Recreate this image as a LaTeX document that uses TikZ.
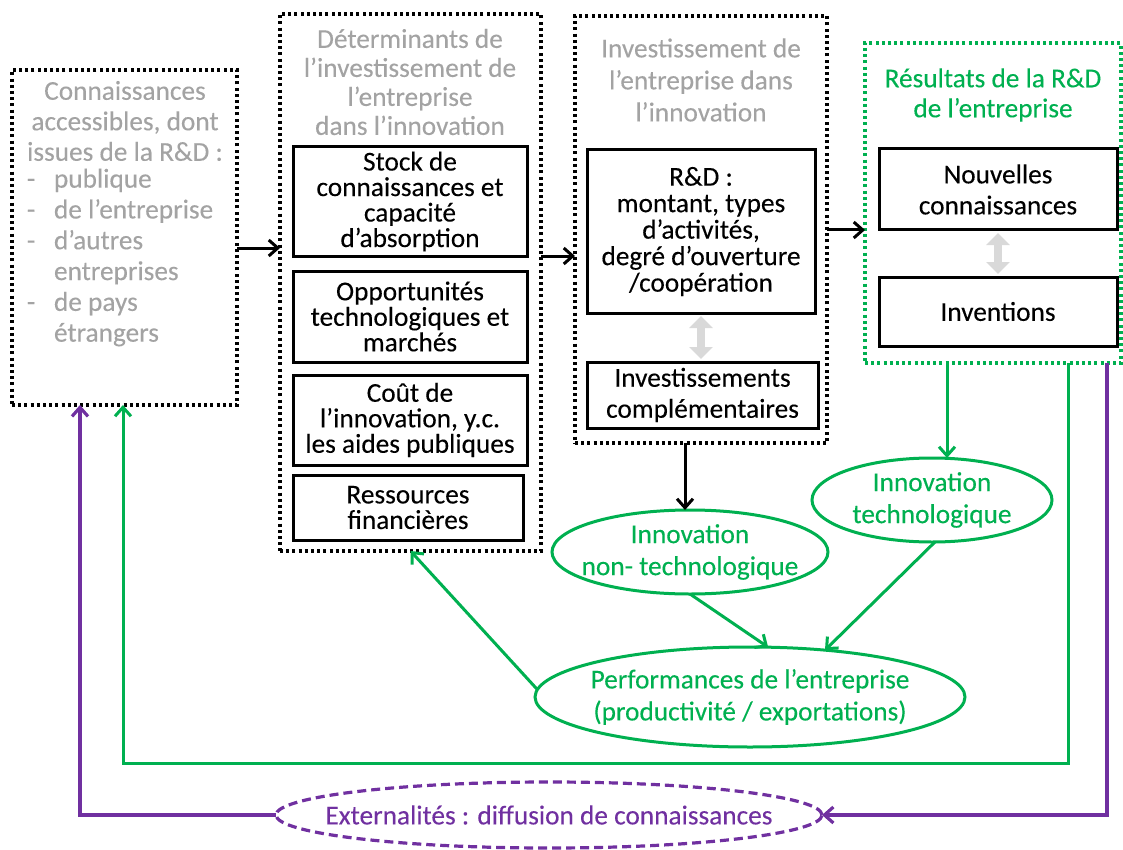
\documentclass[tikz,border=0pt]{standalone}
\usepackage{fontspec}
\setmainfont{Carlito}[FakeBold=0.2]
\usetikzlibrary{arrows.meta,shapes.geometric,calc}
\definecolor{tgray}{HTML}{A3A3A3}
\definecolor{ggreen}{HTML}{00B050}
\definecolor{ppurple}{HTML}{7030A0}
\definecolor{lgray}{HTML}{D9D9D9}
\begin{document}
\begin{tikzpicture}[x=1pt,y=-1pt,
  every node/.style={inner sep=0pt, outer sep=0pt},
  dotbox/.style={draw, line width=3.2pt, dash pattern=on 3pt off 3.2pt, rectangle},
  ibox/.style={draw, line width=3pt, rectangle, align=center, font=\fontsize{27.3}{25.5}\selectfont},
  ibox2/.style={ibox, font=\fontsize{27.3}{31}\selectfont},
  gtitle/.style={align=center, text=tgray},
  gellipse/.style={draw=ggreen, line width=3pt, ellipse},
  gtext/.style={align=center, text=ggreen, font=\fontsize{27.3}{32}\selectfont},
  barrow/.style={line width=3pt, -{Straight Barb[length=9pt,width=16pt]}},
  garrow/.style={draw=ggreen, line width=3pt, -{Straight Barb[length=9pt,width=16pt]}},
  parrow/.style={draw=ppurple, line width=3.2pt, -{Straight Barb[length=9pt,width=16pt]}},
  dblarrow/.style={draw=lgray, line width=8pt, {Triangle[width=23pt,length=12pt]}-{Triangle[width=23pt,length=12pt]}, shorten <=3pt, shorten >=3pt}
]
\useasboundingbox (0,0) rectangle (1123,850);

% outer dotted boxes
\node[dotbox, minimum width=225pt, minimum height=335pt] (b1) at (124.5,237.5) {};
\node[dotbox, minimum width=261pt, minimum height=537pt] (b2) at (410.5,282.5) {};
\node[dotbox, minimum width=252pt, minimum height=427pt] (b3) at (701,229.5) {};
\node[dotbox, draw=ggreen, minimum width=256pt, minimum height=320pt] (b4) at (993,203) {};

% box 1 text
\node[gtitle, font=\fontsize{27.3}{30.5}\selectfont] (t1) at (125,121) {Connaissances\\accessibles, dont\\issues de la R\&D :};
\node[text=tgray, anchor=west, font=\fontsize{27.3}{30.8}\selectfont] (l1) at (27,258.5)
 {\begin{tabular}{@{}p{27pt}@{}l@{}}
  - & publique\\
  - & de l'entreprise\\
  - & d'autres\\
    & entreprises\\
  - & de pays\\
    & étrangers
 \end{tabular}};

% box 2
\node[gtitle, font=\fontsize{27.3}{29}\selectfont] (t2) at (410,82) {Déterminants de\\l'investissement de\\l'entreprise\\dans l'innovation};
\node[ibox, minimum width=234pt, minimum height=109pt] (stock) at (410,201.5) {Stock de\\connaissances et\\capacité\\d'absorption};
\node[ibox, minimum width=234pt, minimum height=91pt] (opp) at (410,316.5) {Opportunités\\technologiques et\\marchés};
\node[ibox, minimum width=234pt, minimum height=90pt] (cout) at (410,420) {Coût de\\l'innovation, y.c.\\les aides publiques};
\node[ibox, minimum width=230pt, minimum height=65pt] (res) at (408,507.5) {Ressources\\financières};

% box 3
\node[gtitle, font=\fontsize{27.3}{32}\selectfont] (t3) at (701,80) {Investissement de\\l'entreprise dans\\l'innovation};
\node[ibox, font=\fontsize{27.3}{26.5}\selectfont, minimum width=228pt, minimum height=163pt] (rd) at (701,231.5) {R\&D :\\montant, types\\d'activités,\\degré d'ouverture\\/coopération};
\node[ibox2, minimum width=231pt, minimum height=66pt] (inv) at (702.5,395) {Investissements\\complémentaires};
\draw[dblarrow] (rd.south) -- (inv.north -| rd.south);

% box 4
\node[align=center, text=ggreen, font=\fontsize{27.3}{30}\selectfont] (t4) at (993,95) {Résultats de la R\&D\\de l'entreprise};
\node[ibox2, minimum width=238pt, minimum height=81pt] (nouv) at (998,189.5) {Nouvelles\\connaissances};
\node[ibox2, minimum width=238pt, minimum height=69pt] (invent) at (998,311.5) {Inventions};
\draw[dblarrow] (nouv.south) -- (invent.north);

% ellipses
\node[gellipse, minimum width=276pt, minimum height=84pt] (int) at (690,552) {};
\node[gtext] (intt) at (int.center) {Innovation\\non- technologique};
\node[gellipse, minimum width=240pt, minimum height=84pt] (itech) at (932,500) {};
\node[gtext] (itecht) at (itech.center) {Innovation\\technologique};
\node[gellipse, minimum width=430pt, minimum height=100pt] (perf) at (750,697) {};
\node[gtext] (perft) at (perf.center) {Performances de l'entreprise\\(productivité / exportations)};
\node[draw=ppurple, line width=3.2pt, dash pattern=on 9pt off 5pt, ellipse, minimum width=546pt, minimum height=66pt] (ext) at (549,815) {};
\node[text=ppurple, font=\fontsize{27.3}{30}\selectfont] (extt) at (ext.center) {Externalités : diffusion de connaissances};

% coordinates for connector positions
\coordinate (y1) at (0,248);
\coordinate (y2) at (0,256);
\coordinate (y3) at (0,230);
\coordinate (xa) at (685,0);
\coordinate (xb) at (947,0);
\coordinate (xg) at (1068,0);
\coordinate (xp) at (1107,0);
\coordinate (gl) at (123,763);
\coordinate (pl) at (80,0);

% black arrows
\draw[barrow] (b1.east |- y1) -- (b2.west |- y1);
\draw[barrow] (b2.east |- y2) -- (b3.west |- y2);
\draw[barrow] (b3.east |- y3) -- (b4.west |- y3);
\draw[barrow] (b3.south -| xa) -- (int.north -| xa);

% green arrows
\draw[garrow] (b4.south -| xb) -- (itech.north -| xb);
\draw[garrow] (int.south) -- (perf.70);
\draw[garrow] (itech.-86) -- (perf.32);
\draw[garrow] (perf.178) -- (b2.south);
\draw[garrow] (b4.south -| xg) |- (gl) -- (b1.south -| gl);

% purple arrows
\draw[parrow] (b4.south -| xp) |- (ext.east);
\draw[parrow] (ext.west) -| (b1.south -| pl);
\end{tikzpicture}
\end{document}
